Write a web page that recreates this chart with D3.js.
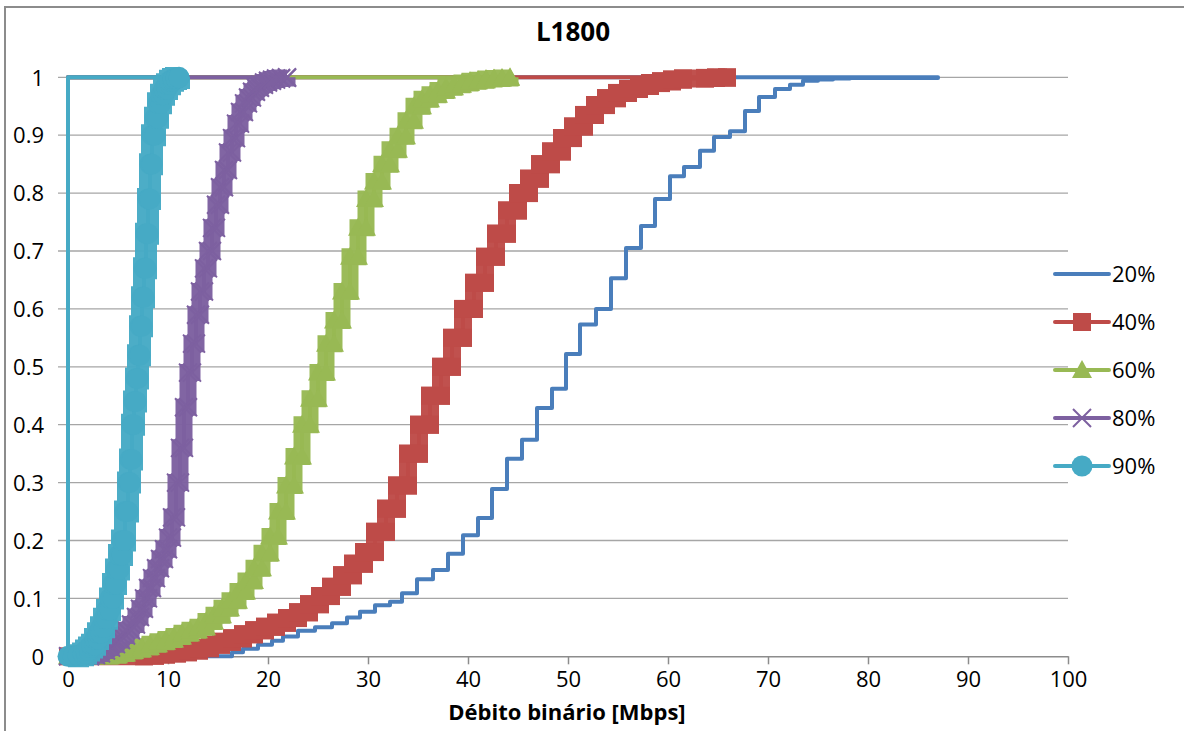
<!DOCTYPE html>
<html>
<head>
<meta charset="utf-8">
<script src="https://cdn.jsdelivr.net/npm/d3@7"></script>
<style>
  html, body { margin: 0; padding: 0; background: #fff; }
  svg { display: block; }
  text { font-family: "Open Sans", "Liberation Sans", sans-serif; fill: #000; }
</style>
</head>
<body>
<svg id="chart" width="1184" height="731"></svg>
<script>
// ---------------- DATA ----------------
const chartTitle = "L1800";
const xAxisTitle = "Débito binário [Mbps]";
const xTicks = [0, 10, 20, 30, 40, 50, 60, 70, 80, 90, 100];
const yTicks = [0, 0.1, 0.2, 0.3, 0.4, 0.5, 0.6, 0.7, 0.8, 0.9, 1];
const yTickLabels = ["0", "0.1", "0.2", "0.3", "0.4", "0.5", "0.6", "0.7", "0.8", "0.9", "1"];
const seriesNames = ["20%", "40%", "60%", "80%", "90%"];

// Step CDFs: x = throughput (Mbps) where the step occurs, y = cumulative probability after the step
const s20x = [0, 16.4, 17.5, 19.0, 20.4, 21.5, 23.0, 24.7, 26.4, 27.9, 29.2, 30.7, 32.2, 33.4, 34.9, 36.5, 38.0, 39.5, 41.0, 42.4, 43.9, 45.4, 46.9, 48.4, 49.8, 51.2, 52.8, 54.3, 55.8, 57.3, 58.7, 60.2, 61.6, 63.2, 64.6, 66.2, 67.7, 69.1, 70.7, 72.2, 73.5, 75.0, 76.5, 78.2, 87.0];
const s20y = [0, 0.007, 0.013, 0.020, 0.027, 0.034, 0.044, 0.050, 0.057, 0.067, 0.077, 0.088, 0.094, 0.109, 0.133, 0.149, 0.177, 0.209, 0.239, 0.289, 0.341, 0.374, 0.429, 0.462, 0.522, 0.573, 0.600, 0.653, 0.705, 0.743, 0.790, 0.829, 0.845, 0.873, 0.897, 0.907, 0.942, 0.966, 0.980, 0.987, 0.994, 0.996, 0.998, 0.999, 1.0];

const s40x = [0, 7.6, 8.7, 9.8, 10.9, 12.0, 13.1, 14.2, 15.3, 16.4, 17.5, 18.6, 19.7, 20.8, 21.9, 23.0, 24.1, 25.2, 26.3, 27.4, 28.5, 29.6, 30.7, 31.8, 32.9, 34.0, 35.1, 36.2, 37.3, 38.4, 39.5, 40.6, 41.7, 42.8, 43.9, 45.0, 46.1, 47.2, 48.3, 49.4, 50.5, 51.6, 52.7, 53.8, 54.9, 56.0, 57.1, 58.2, 59.3, 60.4, 61.5, 63.7, 64.8, 65.9];
const s40y = [0, 0.001, 0.003, 0.005, 0.007, 0.01, 0.014, 0.02, 0.025, 0.031, 0.038, 0.045, 0.051, 0.058, 0.066, 0.076, 0.09, 0.104, 0.12, 0.14, 0.16, 0.18, 0.215, 0.255, 0.295, 0.35, 0.4, 0.45, 0.5, 0.55, 0.6, 0.645, 0.69, 0.73, 0.77, 0.8, 0.825, 0.85, 0.872, 0.895, 0.915, 0.935, 0.952, 0.964, 0.973, 0.98, 0.985, 0.99, 0.993, 0.996, 0.998, 0.999, 0.9995, 1.0];

const s60x = [0, 4.2, 5.0, 5.8, 6.6, 7.4, 8.2, 9.0, 9.8, 10.6, 11.4, 12.2, 13.0, 13.8, 14.6, 15.4, 16.2, 17.0, 17.8, 18.6, 19.4, 20.2, 21.0, 21.8, 22.6, 23.4, 24.2, 25.0, 25.8, 26.6, 27.4, 28.2, 29.0, 29.8, 30.6, 31.4, 32.2, 33.0, 33.8, 34.6, 35.4, 36.2, 37.0, 37.8, 38.6, 39.4, 40.2, 41.0, 41.8, 42.6, 43.4, 44.2];
const s60y = [0, 0.002, 0.005, 0.009, 0.012, 0.016, 0.021, 0.025, 0.029, 0.034, 0.04, 0.045, 0.05, 0.06, 0.071, 0.083, 0.096, 0.112, 0.13, 0.152, 0.178, 0.207, 0.25, 0.295, 0.345, 0.40, 0.445, 0.49, 0.54, 0.58, 0.63, 0.69, 0.74, 0.79, 0.82, 0.85, 0.875, 0.898, 0.925, 0.95, 0.962, 0.97, 0.977, 0.983, 0.987, 0.99, 0.993, 0.995, 0.997, 0.998, 0.999, 1.0];

const s80x = [0, 1.0, 2.2, 2.8, 3.3, 3.8, 4.3, 4.8, 5.3, 5.8, 6.3, 6.8, 7.2, 7.6, 8.0, 8.4, 8.8, 9.2, 9.6, 10.0, 10.4, 10.8, 11.2, 11.6, 12.0, 12.4, 12.8, 13.2, 13.6, 14.0, 14.4, 14.8, 15.2, 15.6, 16.0, 16.4, 16.8, 17.2, 17.6, 18.0, 18.4, 18.8, 19.2, 19.6, 20.0, 20.4, 20.8, 21.3, 21.9];
const s80y = [0, 0, 0.002, 0.005, 0.01, 0.015, 0.021, 0.028, 0.036, 0.045, 0.055, 0.068, 0.082, 0.1, 0.118, 0.135, 0.152, 0.168, 0.185, 0.205, 0.24, 0.3, 0.36, 0.43, 0.49, 0.54, 0.59, 0.63, 0.67, 0.70, 0.74, 0.78, 0.81, 0.84, 0.87, 0.895, 0.92, 0.94, 0.955, 0.965, 0.975, 0.982, 0.987, 0.991, 0.994, 0.996, 0.998, 0.999, 1.0];

const s90x = [0, 0.5, 1.0, 1.5, 1.8, 2.1, 2.4, 2.7, 3.0, 3.3, 3.6, 3.9, 4.2, 4.5, 4.8, 5.1, 5.4, 5.7, 6.0, 6.2, 6.4, 6.6, 6.8, 7.0, 7.2, 7.4, 7.6, 7.8, 8.0, 8.2, 8.4, 8.7, 9.0, 9.3, 9.6, 9.9, 10.2, 10.5, 10.8, 11.1];
const s90y = [0, 0, 0.002, 0.005, 0.01, 0.015, 0.02, 0.03, 0.04, 0.05, 0.065, 0.08, 0.1, 0.125, 0.15, 0.175, 0.2, 0.25, 0.3, 0.34, 0.4, 0.44, 0.48, 0.52, 0.57, 0.62, 0.67, 0.73, 0.79, 0.85, 0.9, 0.93, 0.955, 0.97, 0.98, 0.988, 0.994, 0.997, 0.999, 1.0];

const seriesX = [s20x, s40x, s60x, s80x, s90x];
const seriesY = [s20y, s40y, s60y, s80y, s90y];
const seriesColors = ["#4A7EBB", "#BE4B48", "#98B954", "#7D60A0", "#46AAC5"];
const seriesMarkers = ["none", "square", "triangle", "x", "circle"];

// ---------------- LAYOUT ----------------
const svg = d3.select("#chart");
const x = d3.scaleLinear().domain([-1, 100]).range([58, 1068]);
const y = d3.scaleLinear().domain([0, 1]).range([656.3, 77.3]);

// outer border (top + left)
svg.append("path")
  .attr("d", "M5,731 L5,7 L1184,7")
  .attr("fill", "none").attr("stroke", "#8c8c8c").attr("stroke-width", 2);

// title
svg.append("text").attr("x", 573).attr("y", 41)
  .attr("text-anchor", "middle").attr("font-size", 26).attr("font-weight", "bold")
  .text(chartTitle);

// gridlines
svg.append("g").selectAll("line").data(yTicks.slice(1)).join("line")
  .attr("x1", x(-1)).attr("x2", x(100))
  .attr("y1", d => y(d)).attr("y2", d => y(d))
  .attr("stroke", "#a6a6a6").attr("stroke-width", 1.3);

// y labels
const yAxis = d3.axisLeft(y).tickValues(yTicks).tickSize(0).tickPadding(0)
  .tickFormat((d, i) => yTickLabels[i]);
const gy = svg.append("g").attr("transform", "translate(44,0)").call(yAxis);
gy.select(".domain").remove();
gy.selectAll("text").attr("font-size", 22).attr("font-family", "Open Sans").attr("fill", "#000").attr("dy", "0.35em");

// x axis
const xAxis = d3.axisBottom(x).tickValues(xTicks).tickSize(8).tickSizeOuter(0).tickPadding(7);
const gx = svg.append("g").attr("transform", "translate(0,656.3)").call(xAxis);
gx.select(".domain").attr("stroke", "#8c8c8c").attr("stroke-width", 1.5);
gx.selectAll(".tick line").attr("stroke", "#8c8c8c").attr("stroke-width", 1.5);
gx.selectAll("text").attr("font-size", 22).attr("font-family", "Open Sans").attr("fill", "#000");

svg.append("text").attr("x", 567).attr("y", 720)
  .attr("text-anchor", "middle").attr("font-size", 22).attr("font-weight", "bold")
  .text(xAxisTitle);

// marker drawing
const markerBand = { square: 18, circle: 22, triangle: 17, x: 17 };
function drawMarker(sel, type, color) {
  if (type === "square") {
    sel.append("rect").attr("x", -9).attr("y", -9).attr("width", 18).attr("height", 18).attr("fill", color);
  } else if (type === "circle") {
    sel.append("circle").attr("r", 10.5).attr("fill", color);
  } else if (type === "triangle") {
    sel.append("path").attr("d", "M0,-10 L10,8 L-10,8 Z").attr("fill", color);
  } else if (type === "x") {
    sel.append("path").attr("d", "M-9,-9 L9,9 M-9,9 L9,-9").attr("stroke", color).attr("stroke-width", 2).attr("fill", "none");
  }
}

// series
const plot = svg.append("g");
seriesX.forEach((xs, si) => {
  const ys = seriesY[si];
  const color = seriesColors[si];
  const type = seriesMarkers[si];
  const pts = xs.map((v, i) => [v, ys[i]]);
  const maxX = xs[xs.length - 1];
  const stepLine = d3.line().x(d => x(d[0])).y(d => y(d[1])).curve(d3.curveStepAfter);
  // thin line: wrap at x=0, step CDF, return along y=1
  const wrapD = "M" + x(0) + "," + y(1) + "L" + x(0) + "," + y(0) + "M" + x(0) + "," + y(1) + "L" + x(maxX) + "," + y(1);
  plot.append("path").attr("d", wrapD + stepLine(pts))
    .attr("fill", "none").attr("stroke", color).attr("stroke-width", 4)
    .attr("stroke-linejoin", "round").attr("stroke-linecap", "round");
  if (type !== "none") {
    // densely overlapping markers form a solid band along the step curve
    plot.append("path").attr("d", stepLine(pts))
      .attr("fill", "none").attr("stroke", color).attr("stroke-width", markerBand[type])
      .attr("stroke-linejoin", "miter").attr("stroke-linecap", "butt").attr("stroke-opacity", 0.97);
    const corners = [];
    pts.forEach((p, i) => {
      if (i > 0) corners.push([p[0], pts[i - 1][1]]);
      corners.push(p);
    });
    const mg = plot.append("g");
    corners.forEach(c => {
      const g = mg.append("g").attr("transform", `translate(${x(c[0])},${y(c[1])})`);
      drawMarker(g, type, color);
    });
  }
});

// legend
const legendY0 = 274, legendDY = 48;
const lg = svg.append("g");
seriesNames.forEach((name, i) => {
  const yy = legendY0 + i * legendDY;
  lg.append("line").attr("x1", 1055).attr("x2", 1109).attr("y1", yy).attr("y2", yy)
    .attr("stroke", seriesColors[i]).attr("stroke-width", 4).attr("stroke-linecap", "round");
  const g = lg.append("g").attr("transform", `translate(1082,${yy})`);
  drawMarker(g, seriesMarkers[i], seriesColors[i]);
  lg.append("text").attr("x", 1112).attr("y", yy).attr("dy", "0.35em")
    .attr("font-size", 22).text(name);
});
</script>
</body>
</html>
